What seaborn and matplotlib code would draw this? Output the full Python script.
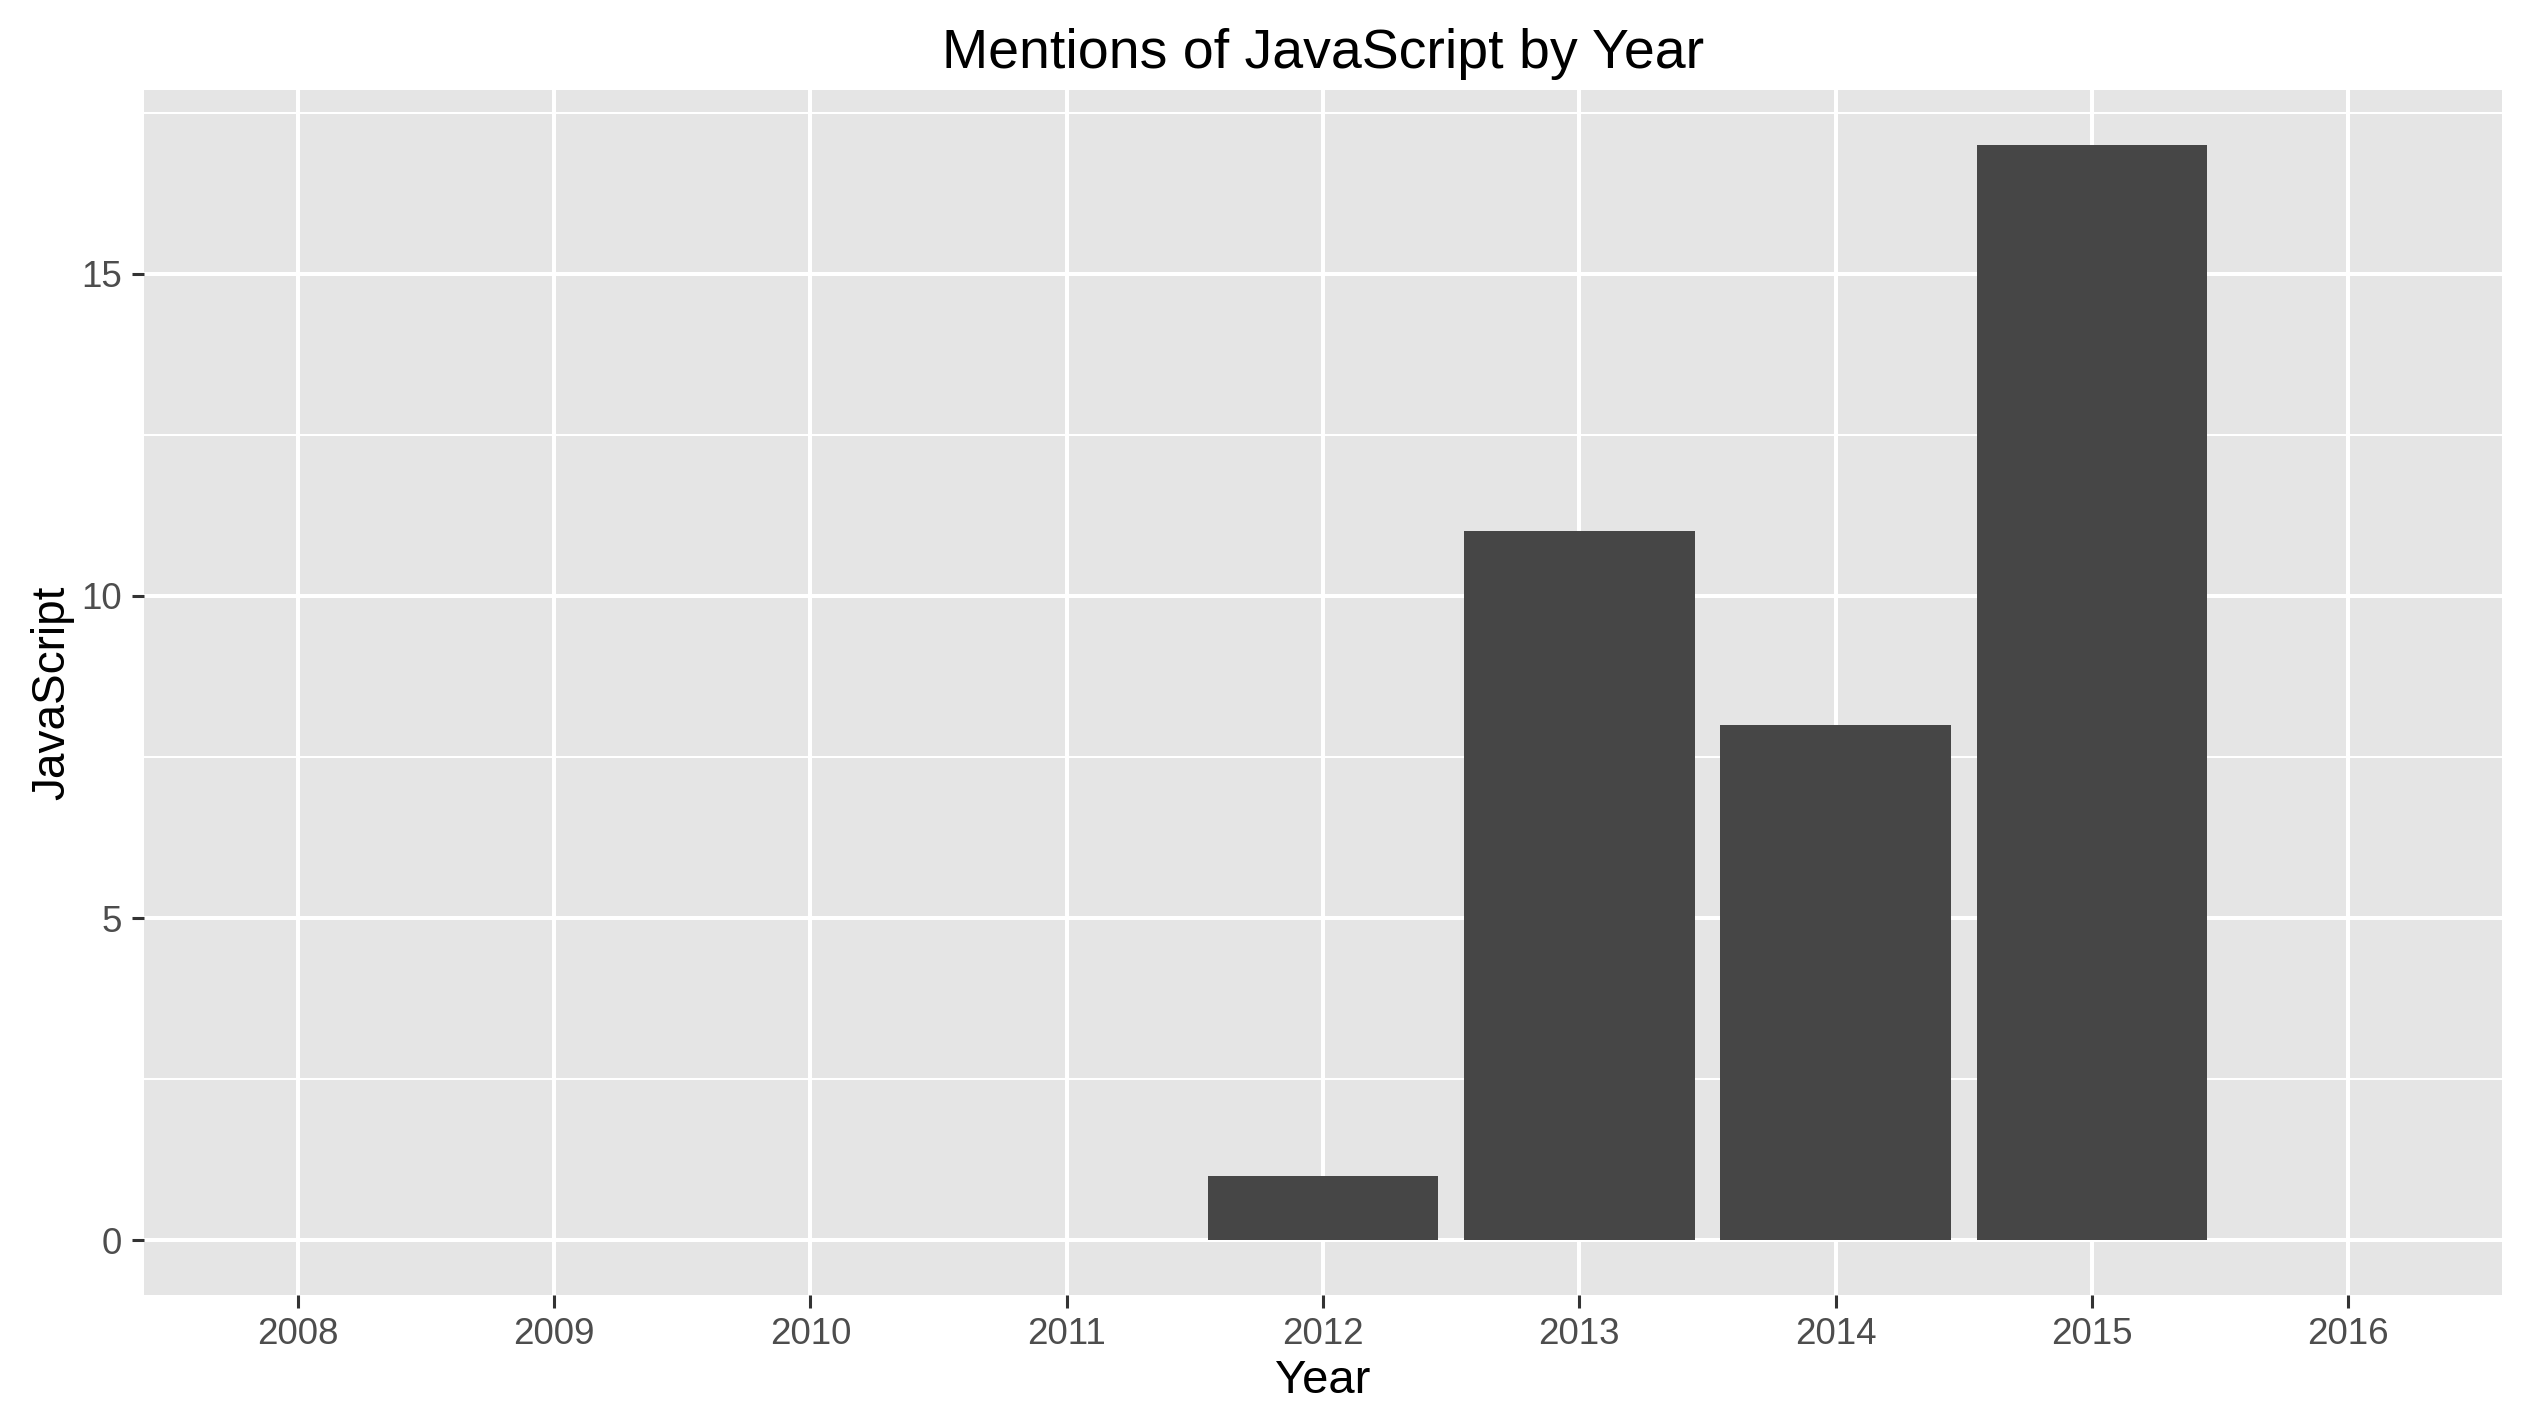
import matplotlib
matplotlib.use("Agg")
import matplotlib.pyplot as plt
import seaborn as sns
import pandas as pd
import numpy as np

years = ["2008", "2009", "2010", "2011", "2012", "2013", "2014", "2015", "2016"]
mentions = [0, 0, 0, 0, 1, 11, 8, 17, 0]
y_ticks = [0, 5, 10, 15]

df = pd.DataFrame({"Year": years, "JavaScript": mentions})

sns.set_theme(style="white")
plt.rcParams["font.family"] = ["Liberation Sans", "DejaVu Sans"]

W, H = 2525, 1425
dpi = 100
fig = plt.figure(figsize=(W / dpi, H / dpi), dpi=dpi)
left, right, top, bottom = 144, 2502, 90, 1295
ax = fig.add_axes([left / W, (H - bottom) / H, (right - left) / W, (bottom - top) / H])
ax.set_facecolor("#E5E5E5")

sns.barplot(data=df, x="Year", y="JavaScript", color="#464646", saturation=1,
            width=0.9, ax=ax, zorder=3, linewidth=0)

ymax = max(mentions)
ax.set_ylim(-0.05 * ymax, ymax * 1.05)
ax.set_xlim(-0.6, len(years) - 1 + 0.6)
ax.set_yticks(y_ticks)
ax.set_yticks([2.5, 7.5, 12.5, 17.5], minor=True)

ax.grid(which="major", color="white", linewidth=2.9, zorder=0)
ax.grid(which="minor", axis="y", color="white", linewidth=1.45, zorder=0)
ax.set_axisbelow(True)
for s in ax.spines.values():
    s.set_visible(False)

ax.tick_params(axis="both", which="major", length=9, width=2.2, color="#333333",
               labelsize=26.5, labelcolor="#4D4D4D", pad=7, left=True, bottom=True)
ax.tick_params(axis="both", which="minor", length=0)

ax.set_xlabel("Year", fontsize=34, color="black", labelpad=5)
ax.set_ylabel("JavaScript", fontsize=33, color="black", labelpad=5)
ax.set_title("Mentions of JavaScript by Year", fontsize=40, color="black", pad=16)

fig.savefig("out.png", dpi=dpi)
